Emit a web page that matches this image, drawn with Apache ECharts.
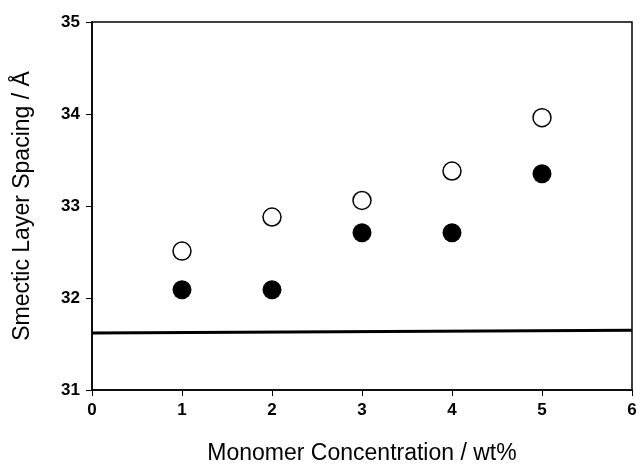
<!DOCTYPE html>
<html>
<head>
<meta charset="utf-8">
<script src="https://cdn.jsdelivr.net/npm/echarts@6/dist/echarts.min.js"></script>
<style>
html,body{margin:0;padding:0;background:#fff;}
#chart{width:640px;height:470px;}
</style>
</head>
<body>
<div id="chart"></div>
<script>
// monomer concentration (wt%)
var conc = [1, 2, 3, 4, 5];
// open circles
var openVals = [32.51, 32.88, 33.06, 33.38, 33.96];
// filled circles
var filledVals = [32.09, 32.09, 32.71, 32.71, 33.35];
// reference line ends
var refX = [0, 6];
var refY = [31.62, 31.65];

var myChart = echarts.init(document.getElementById('chart'));

function pairs(xs, ys){
	var out = [];
	for(var i=0;i<xs.length;i++){
		out.push([xs[i], ys[i]]);
	}
	return out;
}

var font = 'Liberation Sans';

myChart.setOption({
	animation: false,
	grid: {
		left: 92,
		right: 8,
		top: 22,
		bottom: 74,
		show: true,
		borderColor: '#000',
		borderWidth: 1.5
	},
	xAxis: {
		type: 'value',
		min: 0,
		max: 6,
		interval: 1,
		name: 'Monomer Concentration / wt%',
		nameLocation: 'middle',
		nameGap: 52,
		nameTextStyle: {fontFamily: font, fontSize: 23, color: '#000'},
		axisLine: {lineStyle: {color: '#000', width: 1.5}},
		axisTick: {show: true, length: 6, lineStyle: {color: '#000'}},
		axisLabel: {fontFamily: font, fontSize: 17, fontWeight: 'bold', color: '#000', margin: 12},
		splitLine: {show: false}
	},
	yAxis: {
		type: 'value',
		min: 31,
		max: 35,
		interval: 1,
		name: 'Smectic Layer Spacing / Å',
		nameLocation: 'middle',
		nameGap: 58,
		nameTextStyle: {fontFamily: font, fontSize: 23, color: '#000'},
		axisLine: {lineStyle: {color: '#000', width: 1.5}},
		axisTick: {show: true, length: 6, lineStyle: {color: '#000'}},
		axisLabel: {fontFamily: font, fontSize: 17, fontWeight: 'bold', color: '#000', margin: 12},
		splitLine: {show: false}
	},
	series: [
		{
			type: 'line',
			data: pairs(refX, refY),
			symbol: 'none',
			lineStyle: {color: '#000', width: 3},
			z: 1
		},
		{
			type: 'scatter',
			data: pairs(conc, openVals),
			symbol: 'circle',
			symbolSize: 18,
			itemStyle: {color: '#fff', borderColor: '#000', borderWidth: 1.5, opacity: 1},
			z: 3
		},
		{
			type: 'scatter',
			data: pairs(conc, filledVals),
			symbol: 'circle',
			symbolSize: 19,
			itemStyle: {color: '#000', opacity: 1},
			z: 3
		}
	]
});
</script>
</body>
</html>
